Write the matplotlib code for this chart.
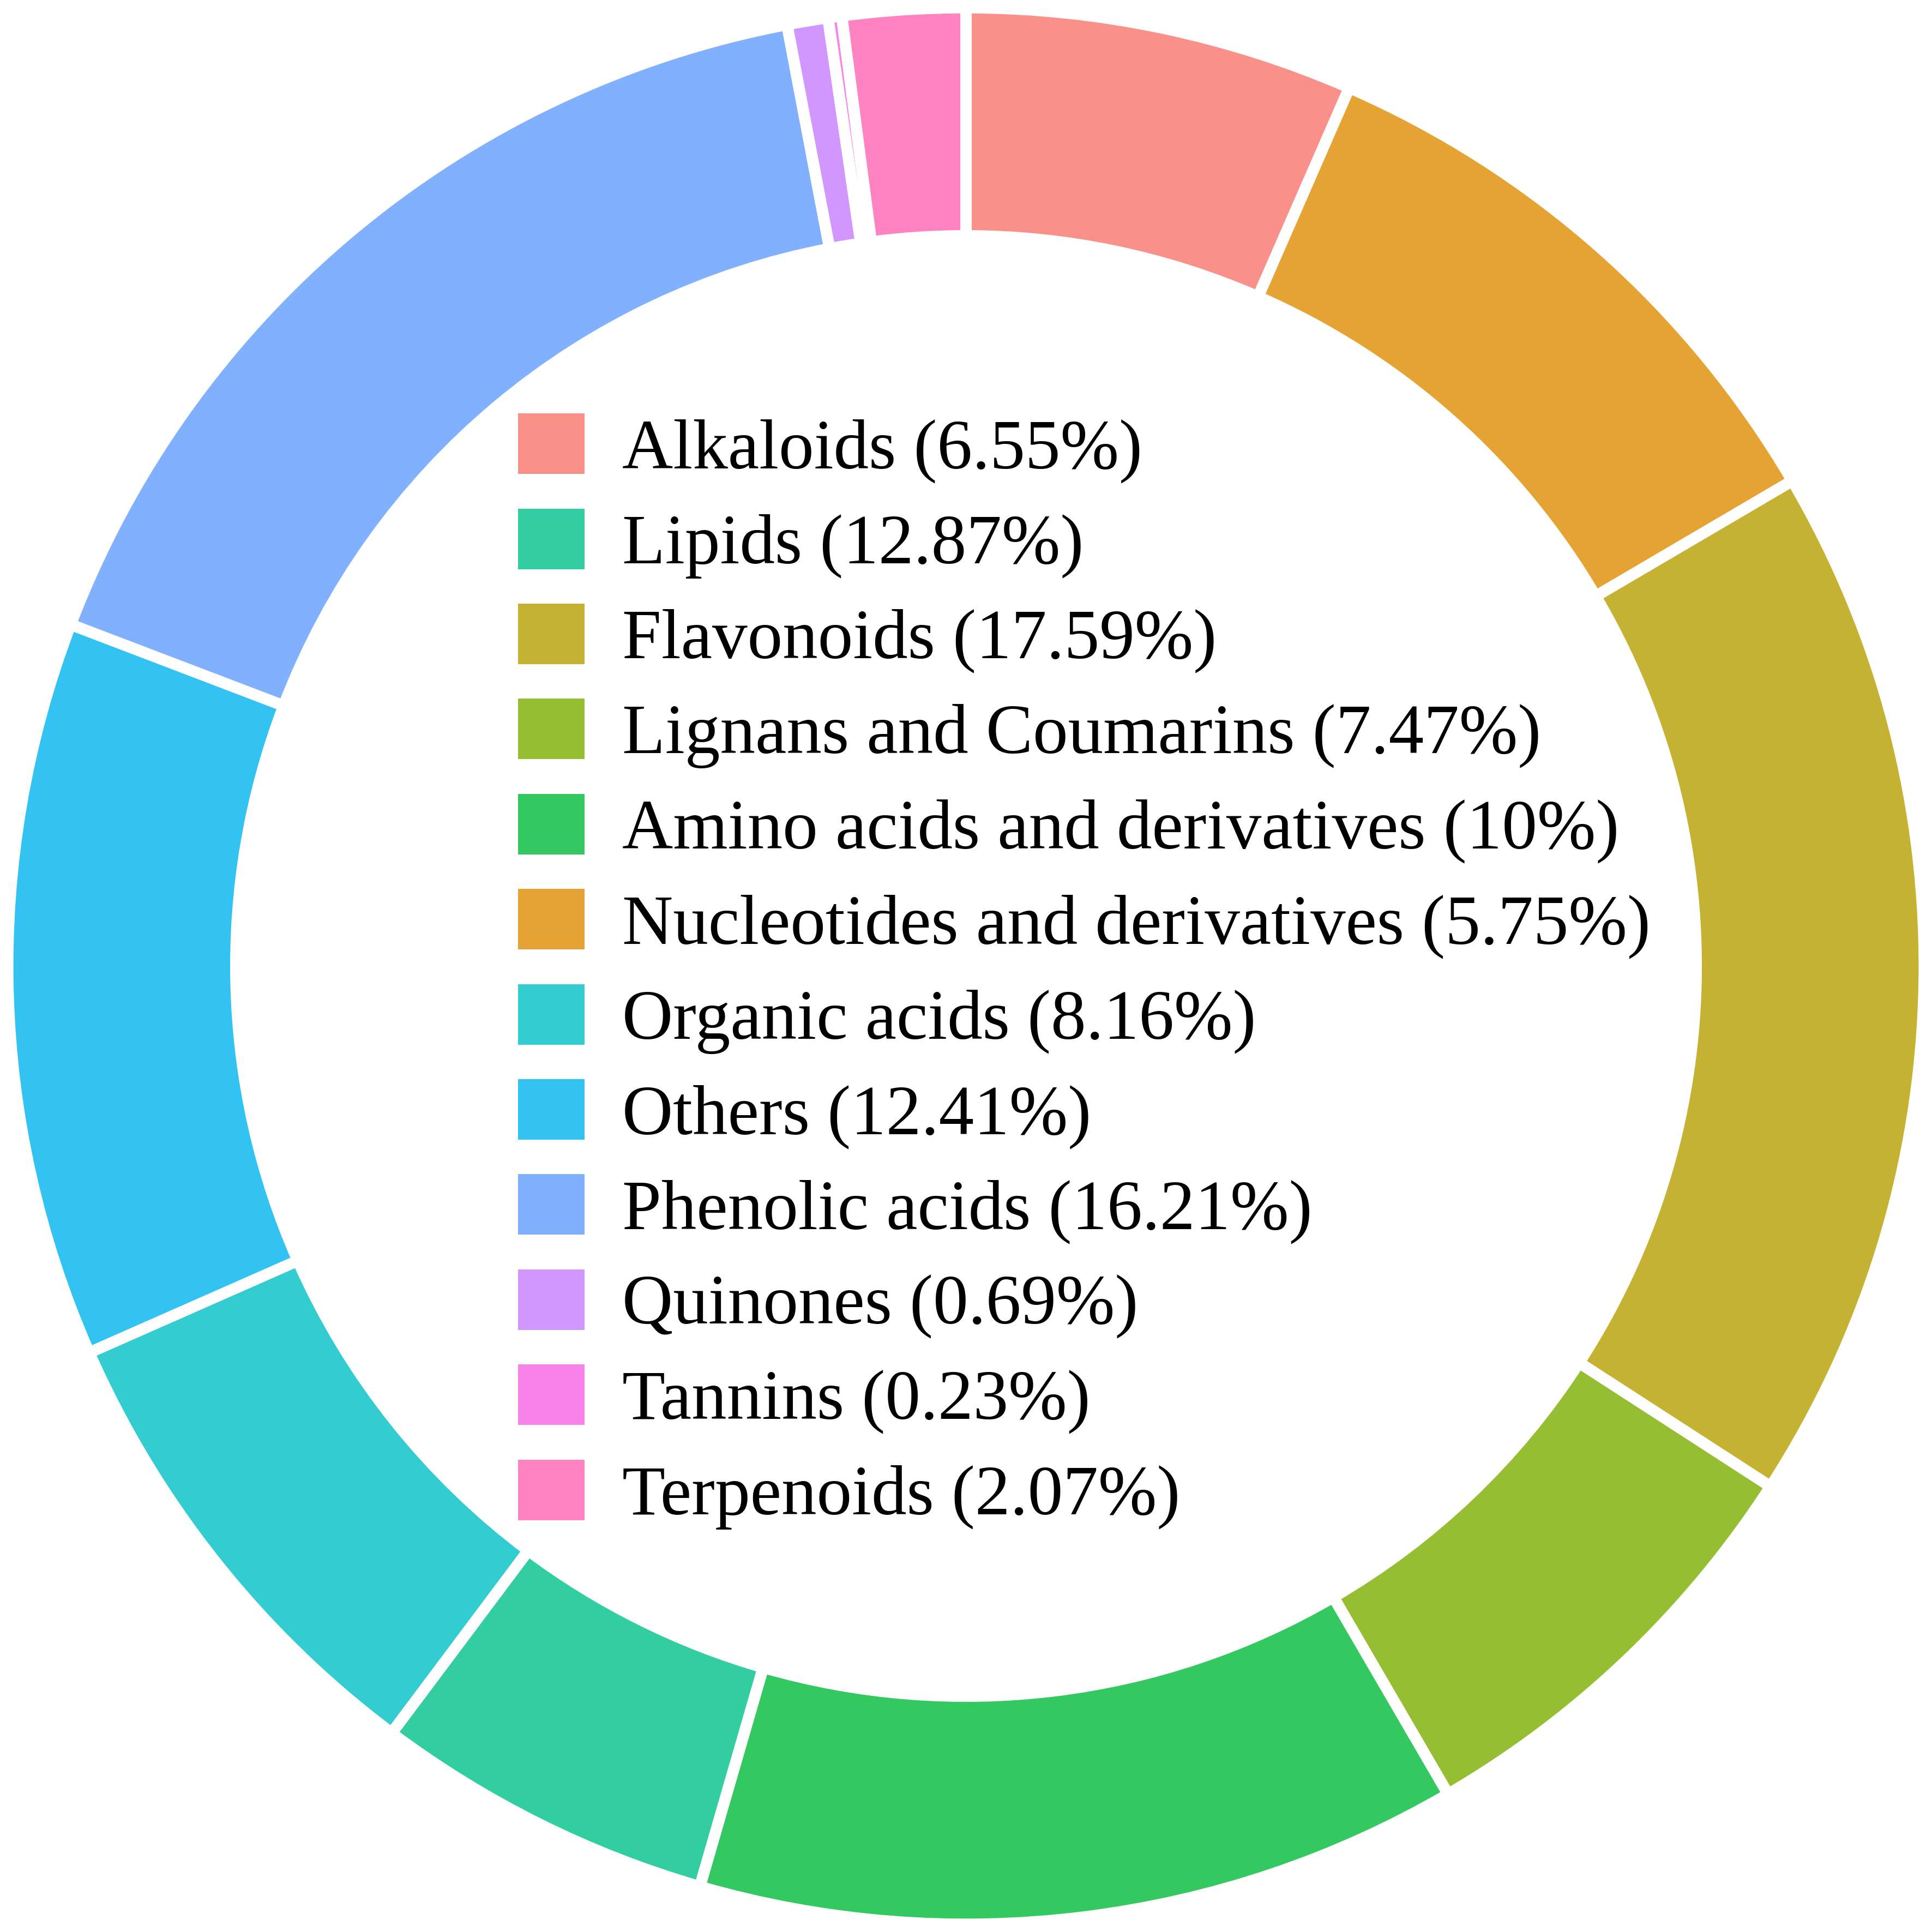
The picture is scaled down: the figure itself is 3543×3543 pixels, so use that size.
import matplotlib
matplotlib.use("Agg")
import matplotlib.pyplot as plt
from matplotlib.patches import Patch
from matplotlib.colors import to_rgb

plt.rcParams['font.family'] = ['Liberation Serif', 'DejaVu Serif']

# ring slices, clockwise from 12 o'clock
ring_values = [6.55, 10, 17.59, 7.47, 12.87, 5.75, 8.16, 12.41, 16.21, 0.69, 0.23, 2.07]

# legend entries as printed
legend_names = ["Alkaloids", "Lipids", "Flavonoids", "Lignans and Coumarins",
                "Amino acids and derivatives", "Nucleotides and derivatives",
                "Organic acids", "Others", "Phenolic acids", "Quinones",
                "Tannins", "Terpenoids"]
legend_pct = [6.55, 12.87, 17.59, 7.47, 10, 5.75, 8.16, 12.41, 16.21, 0.69, 0.23, 2.07]
legend_color_idx = [0, 5, 2, 3, 4, 1, 6, 7, 8, 9, 10, 11]

# ggplot hue palette, shown at 80% opacity on white
hue = ["#F8766D", "#DE8C00", "#B79F00", "#7CAE00", "#00BA38", "#00C08B",
       "#00BFC4", "#00B4F0", "#619CFF", "#C77CFF", "#F564E3", "#FF64B0"]


def lighten(c, a=0.8):
    r, g, b = to_rgb(c)
    return (r * a + 1 - a, g * a + 1 - a, b * a + 1 - a)


pal = [lighten(c) for c in hue]

fig = plt.figure(figsize=(11.81, 11.81), dpi=300)
ax = fig.add_axes([0, 0, 1, 1])
outer = 0.992
ax.pie(ring_values, colors=pal, startangle=90, counterclock=False,
       radius=outer,
       wedgeprops=dict(width=0.238 * outer, edgecolor='white', linewidth=5))
ax.set_xlim(-1, 1)
ax.set_ylim(-1, 1)
ax.set_aspect('equal')
ax.axis('off')

fs = 31
handles = [Patch(facecolor=pal[i], edgecolor='none') for i in legend_color_idx]
labels = [f"{n} ({p:g}%)" for n, p in zip(legend_names, legend_pct)]
ax.legend(handles, labels, loc='upper left', bbox_to_anchor=(0.268, 0.786),
          frameon=False, fontsize=fs, handlelength=0.945, handleheight=0.945,
          handletextpad=0.54, labelspacing=0.36, borderpad=0, borderaxespad=0)

fig.savefig("out.png", dpi=300)
